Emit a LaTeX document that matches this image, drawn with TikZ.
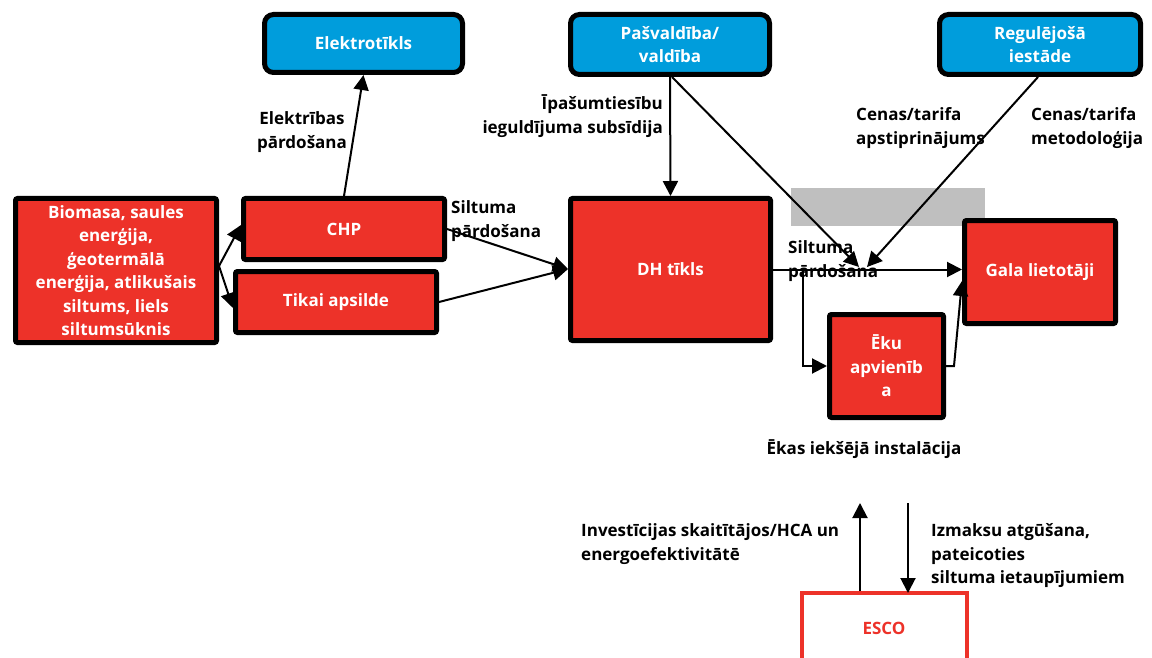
\documentclass[tikz,border=0pt]{standalone}
\usepackage{fontspec}
\setmainfont{Open Sans}
\usetikzlibrary{arrows.meta,calc}
\definecolor{boxred}{RGB}{237,50,41}
\definecolor{boxblue}{RGB}{0,157,220}
\definecolor{band}{RGB}{191,191,191}
\newcommand{\lblfont}{\fontsize{17}{23.5}\selectfont\bfseries}
\begin{document}
\begin{tikzpicture}[x=1pt,y=-1pt,
  redbox/.style={draw=black, line width=5pt, fill=boxred, rounded corners=2pt,
    text=white, font=\lblfont, align=center, inner sep=2pt},
  bluebox/.style={draw=black, line width=5pt, fill=boxblue, rounded corners=9pt,
    text=white, font=\lblfont, align=center, inner sep=2pt},
  escobox/.style={draw=boxred, line width=4pt, fill=white,
    text=boxred, font=\lblfont, align=center, inner sep=2pt},
  lbl/.style={font=\lblfont, text=black, inner sep=0pt},
  arr/.style={line width=2pt, -{Triangle[length=15pt,width=15pt]}}]
\useasboundingbox (0,0) rectangle (1152,658);

% grey band behind the price arrows
\fill[band] (791,188) rectangle (985,226);

% boxes
\node[bluebox, minimum width=198pt, minimum height=58pt] (elek) at (363.5,43.5) {Elektrotīkls};
\node[bluebox, minimum width=199pt, minimum height=60pt] (pasv) at (670,44.5) {Pašvaldība/\\valdība};
\node[bluebox, minimum width=201pt, minimum height=60pt] (reg) at (1040,44.5) {Regulējošā\\iestāde};
\node[redbox, minimum width=201pt, minimum height=144pt] (bio) at (116,270.5)
  {Biomasa, saules\\enerģija,\\ģeotermālā\\enerģija, atlikušais\\siltums, liels\\siltumsūknis};
\node[redbox, minimum width=201pt, minimum height=61pt] (chp) at (344,229) {CHP};
\node[redbox, minimum width=201pt, minimum height=61pt] (tikai) at (336,302) {Tikai apsilde};
\node[redbox, minimum width=200pt, minimum height=142pt] (dh) at (670.5,269.5) {DH tīkls};
\node[redbox, minimum width=151pt, minimum height=103pt] (gala) at (1040,272) {Gala lietotāji};
\node[redbox, minimum width=114pt, minimum height=103pt] (eku) at (886.5,366) {Ēku\\apvienīb\\a};
\node[escobox, minimum width=165pt, minimum height=70pt] (esco) at (884,628) {ESCO};

% labels
\node[lbl, align=center] (lelsale) at (302,132) {Elektrības\\pārdošana};
\node[lbl, align=left, anchor=west] (lheat1) at (451,221) {Siltuma\\pārdošana};
\node[lbl, align=right, anchor=east] (lsubs) at (663,116) {Īpašumtiesību\\ieguldījuma subsīdija};
\node[lbl, align=left, anchor=west] (lheat2) at (788,261) {Siltuma\\pārdošana};
\node[lbl, align=left, anchor=west] (lappr) at (856,128) {Cenas/tarifa\\apstiprinājums};
\node[lbl, align=left, anchor=west] (lmeth) at (1031,128) {Cenas/tarifa\\metodoloģija};
\node[lbl] (linst) at (864,449) {Ēkas iekšējā instalācija};
\node[lbl, align=left, anchor=west] (linv) at (581,544) {Investīcijas skaitītājos/HCA un\\energoefektivitātē};
\node[lbl, align=left, anchor=west] (lrec) at (931,556) {Izmaksu atgūšana,\\pateicoties\\siltuma ietaupījumiem};

% junction points
\coordinate (bsplit) at (219,266);
\coordinate (dhin) at (568,269);
\coordinate (tipA) at (859,267);
\coordinate (tipB) at (867,267);
\coordinate (br) at (803,271);
\coordinate (ekuout) at (954,366);
\coordinate (galain2) at (962,281);
\coordinate (upend) at (860,503);
\coordinate (dnstart) at (908,503);

% connectors
\draw[arr] (chp.north) -- (elek.south);
\draw[arr] (bsplit) -- ([yshift=4pt]chp.west);
\draw[arr] (bsplit) -- ([yshift=-6pt]tikai.west);
\draw[arr] (chp.east) -- (dhin);
\draw[arr] (tikai.east) -- (dhin);
\draw[arr] (pasv.south) -- (dh.north);
\draw[arr] ([xshift=2pt]pasv.south) -- (tipA);
\draw[arr] ([xshift=-2pt]reg.south) -- (tipB);
\draw[arr] (dh.east) -- (dh.east -| gala.west);
\draw[arr] (br) |- (eku.west);
\draw[arr] (eku.east) -- (ekuout) -- (galain2);
\draw[arr] ([xshift=-24pt]esco.north) -- (upend);
\draw[arr] (dnstart) -- ([xshift=24pt,yshift=-2pt]esco.north);
\end{tikzpicture}
\end{document}
